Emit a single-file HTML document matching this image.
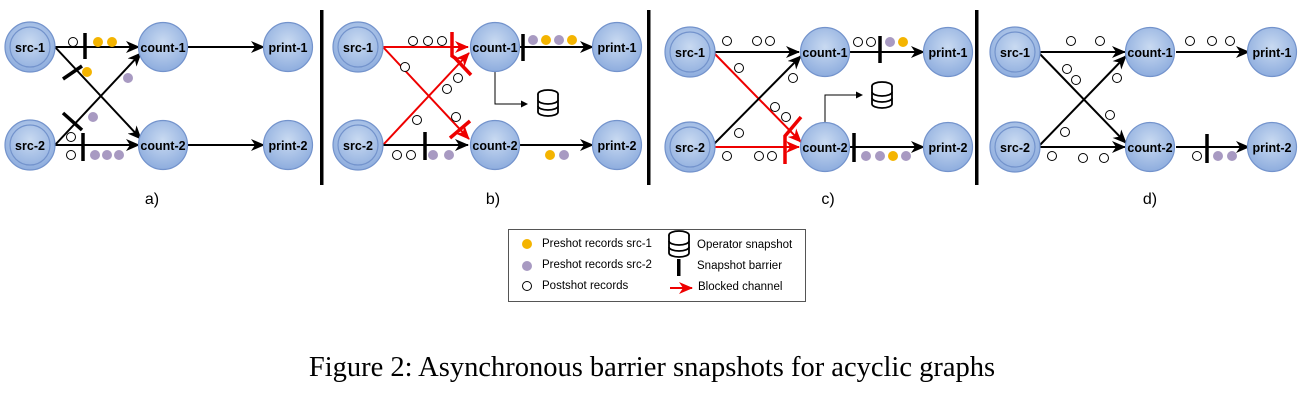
<!DOCTYPE html>
<html><head><meta charset="utf-8"><style>
html,body{margin:0;padding:0;background:#fff;}
svg{display:block;}
text{font-family:"Liberation Sans",sans-serif;}
.n{font-weight:bold;font-size:12.5px;fill:#000;text-anchor:middle;}
</style></head><body>
<svg width="1305" height="405" viewBox="0 0 1305 405" xmlns="http://www.w3.org/2000/svg">
<defs>
<radialGradient id="g" cx="50%" cy="40%" r="60%"><stop offset="0" stop-color="#c9daf1"/><stop offset="1" stop-color="#8eadde"/></radialGradient>
<marker id="ab" markerWidth="14" markerHeight="12" refX="13" refY="6" orient="auto" markerUnits="userSpaceOnUse"><path d="M0,0 L14,6 L0,12 L4,6 Z" fill="#000"/></marker>
<marker id="ar" markerWidth="14" markerHeight="12" refX="13" refY="6" orient="auto" markerUnits="userSpaceOnUse"><path d="M0,0 L14,6 L0,12 L4,6 Z" fill="#e00"/></marker>
<marker id="as" markerWidth="7" markerHeight="7" refX="6" refY="3.5" orient="auto" markerUnits="userSpaceOnUse"><path d="M0,0 L7,3.5 L0,7 Z" fill="#000"/></marker>
<g id="src1"><circle r="25" fill="url(#g)" stroke="#7393cc" stroke-width="1.2"/><circle r="20" fill="none" stroke="#7393cc" stroke-width="1.2"/></g>
<g id="nd"><circle r="24.5" fill="url(#g)" stroke="#7393cc" stroke-width="1.2"/></g>
<g id="db"><ellipse cx="0" cy="-9" rx="10" ry="4" fill="#fff" stroke="#000" stroke-width="1.8"/><path d="M-10,-9 V9 A10,4 0 0 0 10,9 V-9" fill="#fff" stroke="#000" stroke-width="1.8"/><path d="M-10,-3 A10,4 0 0 0 10,-3 M-10,3 A10,4 0 0 0 10,3" fill="none" stroke="#000" stroke-width="1.8"/></g>
</defs>

<rect x="320" y="10" width="3.5" height="175" fill="#000"/>
<rect x="647" y="10" width="3.5" height="175" fill="#000"/>
<rect x="975" y="10" width="3.5" height="175" fill="#000"/>

<!-- PANEL A -->
<g transform="translate(30,0)">
<line x1="25" y1="47" x2="109" y2="47" stroke="#000" stroke-width="2" marker-end="url(#ab)"/>
<line x1="25" y1="47" x2="111" y2="139" stroke="#000" stroke-width="2" marker-end="url(#ab)"/>
<line x1="25" y1="145" x2="111" y2="53" stroke="#000" stroke-width="2" marker-end="url(#ab)"/>
<line x1="25" y1="145" x2="109" y2="145" stroke="#000" stroke-width="2" marker-end="url(#ab)"/>
<line x1="157" y1="47" x2="234" y2="47" stroke="#000" stroke-width="2" marker-end="url(#ab)"/>
<line x1="157" y1="145" x2="234" y2="145" stroke="#000" stroke-width="2" marker-end="url(#ab)"/>
</g>
<circle cx="73" cy="42" r="4.5" fill="#fff" stroke="#000"/>
<line x1="85" y1="33" x2="85" y2="59" stroke="#000" stroke-width="3.5"/>
<circle cx="98" cy="42" r="5" fill="#f4b400"/><circle cx="112" cy="42" r="5" fill="#f4b400"/>
<line x1="63" y1="79" x2="82" y2="66" stroke="#000" stroke-width="3.5"/>
<circle cx="87" cy="72" r="5" fill="#f4b400"/>
<circle cx="128" cy="78" r="5" fill="#a89ac2"/>
<line x1="63" y1="113" x2="82" y2="130" stroke="#000" stroke-width="3.5"/>
<circle cx="93" cy="117" r="5" fill="#a89ac2"/>
<circle cx="71" cy="137" r="4.5" fill="#fff" stroke="#000"/>
<circle cx="71" cy="155" r="4.5" fill="#fff" stroke="#000"/>
<line x1="83" y1="133" x2="83" y2="161" stroke="#000" stroke-width="3.5"/>
<circle cx="95" cy="155" r="5" fill="#a89ac2"/><circle cx="107" cy="155" r="5" fill="#a89ac2"/><circle cx="119" cy="155" r="5" fill="#a89ac2"/>

<!-- PANEL B -->
<g transform="translate(358,0)">
<line x1="25" y1="47" x2="110" y2="47" stroke="#e00" stroke-width="2" marker-end="url(#ar)"/>
<line x1="25" y1="47" x2="111" y2="139" stroke="#e00" stroke-width="2" marker-end="url(#ar)"/>
<line x1="25" y1="145" x2="111" y2="53" stroke="#e00" stroke-width="2" marker-end="url(#ar)"/>
<line x1="25" y1="145" x2="110" y2="145" stroke="#000" stroke-width="2" marker-end="url(#ab)"/>
<line x1="162" y1="47" x2="235" y2="47" stroke="#000" stroke-width="2" marker-end="url(#ab)"/>
<line x1="162" y1="145" x2="235" y2="145" stroke="#000" stroke-width="2" marker-end="url(#ab)"/>
</g>
<circle cx="413" cy="41" r="4.5" fill="#fff" stroke="#000"/><circle cx="428" cy="41" r="4.5" fill="#fff" stroke="#000"/><circle cx="442" cy="41" r="4.5" fill="#fff" stroke="#000"/>
<path d="M452,32 V56 L458,60" fill="none" stroke="#e00" stroke-width="3.5"/>
<line x1="455" y1="58" x2="471" y2="75" stroke="#e00" stroke-width="3.5"/>
<circle cx="405" cy="67" r="4.5" fill="#fff" stroke="#000"/>
<circle cx="458" cy="78" r="4.5" fill="#fff" stroke="#000"/>
<circle cx="447" cy="89" r="4.5" fill="#fff" stroke="#000"/>
<circle cx="417" cy="120" r="4.5" fill="#fff" stroke="#000"/>
<circle cx="456" cy="117" r="4.5" fill="#fff" stroke="#000"/>
<line x1="450" y1="138" x2="470" y2="121" stroke="#e00" stroke-width="3.5"/>
<line x1="425" y1="132" x2="425" y2="160" stroke="#000" stroke-width="3.5"/>
<circle cx="397" cy="155" r="4.5" fill="#fff" stroke="#000"/><circle cx="411" cy="155" r="4.5" fill="#fff" stroke="#000"/>
<circle cx="433" cy="155" r="5" fill="#a89ac2"/><circle cx="449" cy="155" r="5" fill="#a89ac2"/>
<line x1="523" y1="34" x2="523" y2="61" stroke="#000" stroke-width="3.5"/>
<circle cx="533" cy="40" r="5" fill="#a89ac2"/><circle cx="546" cy="40" r="5" fill="#f4b400"/><circle cx="559" cy="40" r="5" fill="#a89ac2"/><circle cx="572" cy="40" r="5" fill="#f4b400"/>
<path d="M495,71 V104 H527" fill="none" stroke="#000" stroke-width="1" marker-end="url(#as)"/>
<use href="#db" x="548" y="103"/>
<circle cx="550" cy="155" r="5" fill="#f4b400"/><circle cx="564" cy="155" r="5" fill="#a89ac2"/>

<!-- PANEL C -->
<g transform="translate(688,0)">
<line x1="25" y1="52" x2="111" y2="52" stroke="#000" stroke-width="2" marker-end="url(#ab)"/>
<line x1="25" y1="52" x2="113" y2="142" stroke="#e00" stroke-width="2" marker-end="url(#ar)"/>
<line x1="25" y1="145" x2="113" y2="56" stroke="#000" stroke-width="2" marker-end="url(#ab)"/>
<line x1="25" y1="147" x2="111" y2="147" stroke="#e00" stroke-width="2" marker-end="url(#ar)"/>
<line x1="162" y1="52" x2="236" y2="52" stroke="#000" stroke-width="2" marker-end="url(#ab)"/>
<line x1="162" y1="147" x2="236" y2="147" stroke="#000" stroke-width="2" marker-end="url(#ab)"/>
</g>
<circle cx="727" cy="41" r="4.5" fill="#fff" stroke="#000"/><circle cx="757" cy="41" r="4.5" fill="#fff" stroke="#000"/><circle cx="770" cy="41" r="4.5" fill="#fff" stroke="#000"/>
<circle cx="739" cy="68" r="4.5" fill="#fff" stroke="#000"/>
<circle cx="793" cy="78" r="4.5" fill="#fff" stroke="#000"/>
<circle cx="775" cy="107" r="4.5" fill="#fff" stroke="#000"/>
<circle cx="786" cy="117" r="4.5" fill="#fff" stroke="#000"/>
<circle cx="739" cy="133" r="4.5" fill="#fff" stroke="#000"/>
<circle cx="727" cy="156" r="4.5" fill="#fff" stroke="#000"/>
<circle cx="759" cy="156" r="4.5" fill="#fff" stroke="#000"/><circle cx="772" cy="156" r="4.5" fill="#fff" stroke="#000"/>
<path d="M785,164 V136 L801,117" fill="none" stroke="#e00" stroke-width="3.5"/>
<circle cx="858" cy="42" r="4.5" fill="#fff" stroke="#000"/><circle cx="871" cy="42" r="4.5" fill="#fff" stroke="#000"/>
<line x1="880" y1="36" x2="880" y2="63" stroke="#000" stroke-width="3.5"/>
<circle cx="890" cy="42" r="5" fill="#a89ac2"/><circle cx="903" cy="42" r="5" fill="#f4b400"/>
<path d="M825,123 V95 H862" fill="none" stroke="#000" stroke-width="1" marker-end="url(#as)"/>
<use href="#db" x="882" y="95"/>
<line x1="854" y1="133" x2="854" y2="162" stroke="#000" stroke-width="3.5"/>
<circle cx="866" cy="156" r="5" fill="#a89ac2"/><circle cx="880" cy="156" r="5" fill="#a89ac2"/><circle cx="893" cy="156" r="5" fill="#f4b400"/><circle cx="906" cy="156" r="5" fill="#a89ac2"/>

<!-- PANEL D -->
<g transform="translate(1013,0)">
<line x1="25" y1="52" x2="112" y2="52" stroke="#000" stroke-width="2" marker-end="url(#ab)"/>
<line x1="25" y1="52" x2="113" y2="143" stroke="#000" stroke-width="2" marker-end="url(#ab)"/>
<line x1="25" y1="147" x2="113" y2="56" stroke="#000" stroke-width="2" marker-end="url(#ab)"/>
<line x1="25" y1="147" x2="112" y2="147" stroke="#000" stroke-width="2" marker-end="url(#ab)"/>
<line x1="163" y1="52" x2="236" y2="52" stroke="#000" stroke-width="2" marker-end="url(#ab)"/>
<line x1="163" y1="147" x2="236" y2="147" stroke="#000" stroke-width="2" marker-end="url(#ab)"/>
</g>
<circle cx="1071" cy="41" r="4.5" fill="#fff" stroke="#000"/><circle cx="1100" cy="41" r="4.5" fill="#fff" stroke="#000"/>
<circle cx="1067" cy="69" r="4.5" fill="#fff" stroke="#000"/><circle cx="1076" cy="80" r="4.5" fill="#fff" stroke="#000"/>
<circle cx="1117" cy="78" r="4.5" fill="#fff" stroke="#000"/>
<circle cx="1110" cy="115" r="4.5" fill="#fff" stroke="#000"/>
<circle cx="1065" cy="132" r="4.5" fill="#fff" stroke="#000"/>
<circle cx="1052" cy="156" r="4.5" fill="#fff" stroke="#000"/><circle cx="1083" cy="158" r="4.5" fill="#fff" stroke="#000"/><circle cx="1104" cy="158" r="4.5" fill="#fff" stroke="#000"/>
<circle cx="1190" cy="41" r="4.5" fill="#fff" stroke="#000"/><circle cx="1212" cy="41" r="4.5" fill="#fff" stroke="#000"/><circle cx="1230" cy="41" r="4.5" fill="#fff" stroke="#000"/>
<circle cx="1197" cy="156" r="4.5" fill="#fff" stroke="#000"/>
<line x1="1207" y1="134" x2="1207" y2="163" stroke="#000" stroke-width="3.5"/>
<circle cx="1218" cy="156" r="5" fill="#a89ac2"/><circle cx="1232" cy="156" r="5" fill="#a89ac2"/>

<!-- NODES -->
<g>
<use href="#src1" x="30" y="47"/><text class="n" x="30" y="52">src-1</text>
<use href="#src1" x="30" y="145"/><text class="n" x="30" y="150">src-2</text>
<use href="#nd" x="163" y="47"/><text class="n" x="163" y="52">count-1</text>
<use href="#nd" x="163" y="145"/><text class="n" x="163" y="150">count-2</text>
<use href="#nd" x="288" y="47"/><text class="n" x="288" y="52">print-1</text>
<use href="#nd" x="288" y="145"/><text class="n" x="288" y="150">print-2</text>

<use href="#src1" x="358" y="47"/><text class="n" x="358" y="52">src-1</text>
<use href="#src1" x="358" y="145"/><text class="n" x="358" y="150">src-2</text>
<use href="#nd" x="495" y="47"/><text class="n" x="495" y="52">count-1</text>
<use href="#nd" x="495" y="145"/><text class="n" x="495" y="150">count-2</text>
<use href="#nd" x="617" y="47"/><text class="n" x="617" y="52">print-1</text>
<use href="#nd" x="617" y="145"/><text class="n" x="617" y="150">print-2</text>

<use href="#src1" x="690" y="52"/><text class="n" x="690" y="57">src-1</text>
<use href="#src1" x="690" y="147"/><text class="n" x="690" y="152">src-2</text>
<use href="#nd" x="825" y="52"/><text class="n" x="825" y="57">count-1</text>
<use href="#nd" x="825" y="147"/><text class="n" x="825" y="152">count-2</text>
<use href="#nd" x="948" y="52"/><text class="n" x="948" y="57">print-1</text>
<use href="#nd" x="948" y="147"/><text class="n" x="948" y="152">print-2</text>

<use href="#src1" x="1015" y="52"/><text class="n" x="1015" y="57">src-1</text>
<use href="#src1" x="1015" y="147"/><text class="n" x="1015" y="152">src-2</text>
<use href="#nd" x="1150" y="52"/><text class="n" x="1150" y="57">count-1</text>
<use href="#nd" x="1150" y="147"/><text class="n" x="1150" y="152">count-2</text>
<use href="#nd" x="1272" y="52"/><text class="n" x="1272" y="57">print-1</text>
<use href="#nd" x="1272" y="147"/><text class="n" x="1272" y="152">print-2</text>
</g>

<g font-size="16" text-anchor="middle">
<text x="152" y="204">a)</text><text x="493" y="204">b)</text><text x="828" y="204">c)</text><text x="1150" y="204">d)</text>
</g>

<rect x="508.5" y="229.5" width="297" height="72" fill="#fff" stroke="#555" stroke-width="1"/>
<g font-size="11.5">
<circle cx="527" cy="244" r="5" fill="#f4b400"/><text x="542" y="247">Preshot records src-1</text>
<circle cx="527" cy="266" r="5" fill="#a89ac2"/><text x="542" y="268">Preshot records src-2</text>
<circle cx="527" cy="286" r="4.5" fill="#fff" stroke="#000"/><text x="542" y="289">Postshot records</text>
<use href="#db" x="679" y="244"/>
<text x="697" y="248">Operator snapshot</text>
<rect x="677" y="259" width="3.5" height="17" fill="#000"/>
<text x="697" y="269">Snapshot barrier</text>
<line x1="670" y1="288" x2="692" y2="288" stroke="#e00" stroke-width="2" marker-end="url(#ar)"/>
<text x="698" y="290">Blocked channel</text>
</g>

<text x="652" y="376" text-anchor="middle" style="font-family:'Liberation Serif',serif;font-size:28.5px;">Figure 2: Asynchronous barrier snapshots for acyclic graphs</text>
</svg>
</body></html>
